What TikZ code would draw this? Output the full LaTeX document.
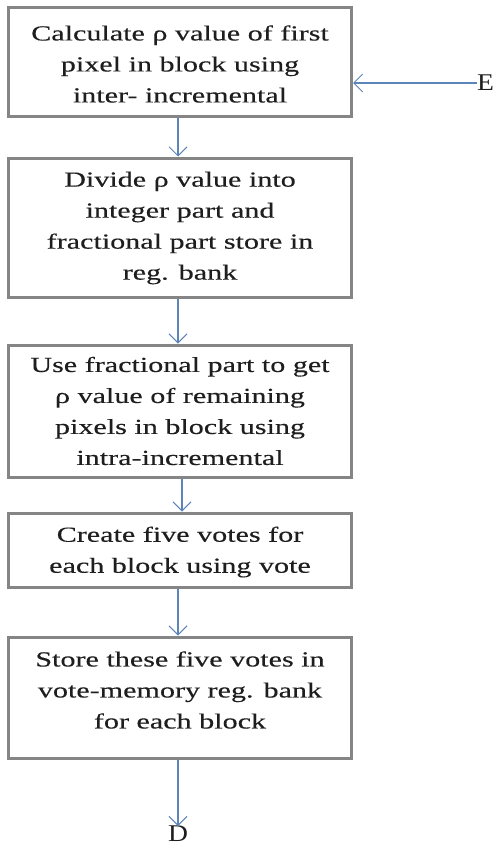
\documentclass[tikz,border=0pt]{standalone}
\usepackage{fontspec}
\setmainfont[FakeStretch=1.4,FakeBold=0.25]{Liberation Serif}
\newfontfamily\termfont[FakeStretch=1.15]{Liberation Serif}
\usetikzlibrary{arrows.meta}
\definecolor{boxgray}{HTML}{858585}
\definecolor{arrowblue}{HTML}{5B84B8}
\definecolor{txtcol}{HTML}{1E1E1E}
\begin{document}
\begin{tikzpicture}[x=1pt,y=-1pt,
  box/.style={draw=boxgray, line width=3pt, minimum width=343pt, inner sep=0pt},
  txt/.style={align=center, text=txtcol, font=\fontsize{21.5}{31}\selectfont, inner sep=0pt},
  flow/.style={draw=arrowblue, line width=1.2pt, -{Straight Barb[length=9pt,width=18pt,line width=1pt]}},
  term/.style={text=txtcol, font=\termfont\fontsize{24}{28}\selectfont, inner sep=0pt}]
\useasboundingbox (0,0) rectangle (500,848);
\fill[white] (0,0) rectangle (500,848);
\node[box, minimum height=109pt] (b1) at (180,62.5) {};
\node[txt] (t1) at (180,64) {Calculate ρ value of first\\pixel in block using\\inter- incremental};
\node[box, minimum height=139pt] (b2) at (180,227.5) {};
\node[txt] (t2) at (180,228) {Divide ρ value into\\integer part and\\fractional part store in\\reg. bank};
\node[box, minimum height=132pt] (b3) at (180,411) {};
\node[txt] (t3) at (180,411) {Use fractional part to get\\ρ value of remaining\\pixels in block using\\intra-incremental};
\node[box, minimum height=74pt] (b4) at (180,550) {};
\node[txt] (t4) at (180,552) {Create five votes for\\each block using vote};
\node[box, minimum height=121pt] (b5) at (180,697.5) {};
\node[txt] (t5) at (180,690) {Store these five votes in\\vote-memory reg. bank\\for each block};
\node[term, anchor=west] (E) at (477,83) {E};
\node[term, anchor=north] (D) at (178,826) {D};
\draw[flow] (E.west) -- (b1.east |- E.west);
\draw[flow] ([xshift=-2pt]b1.south) -- ([xshift=-2pt]b2.north);
\draw[flow] ([xshift=-2pt]b2.south) -- ([xshift=-2pt]b3.north);
\draw[flow] ([xshift=2pt]b3.south) -- ([xshift=2pt]b4.north);
\draw[flow] ([xshift=-2pt]b4.south) -- ([xshift=-2pt]b5.north);
\draw[flow] ([xshift=-2pt]b5.south) -- (D.north);
\end{tikzpicture}
\end{document}
